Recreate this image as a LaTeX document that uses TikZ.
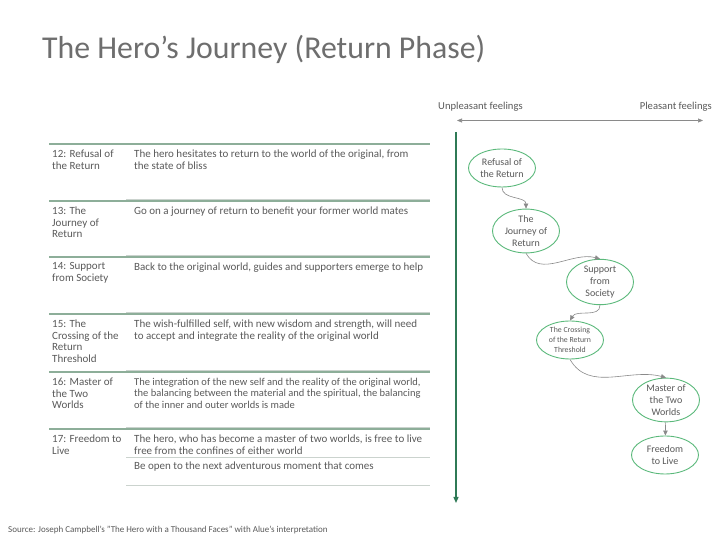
\documentclass[tikz,border=0pt]{standalone}
\usepackage{fontspec}
\setmainfont{Carlito}
\usetikzlibrary{shapes.geometric,arrows.meta,positioning}
\definecolor{titlegray}{HTML}{6E6E6E}
\definecolor{textgray}{HTML}{595959}
\definecolor{sage}{HTML}{8DAE99}
\definecolor{paleline}{HTML}{CBD3CE}
\definecolor{ringgreen}{HTML}{5BB97B}
\definecolor{axisgreen}{HTML}{2F7A56}
\definecolor{arrowgray}{HTML}{8A8A8A}

\begin{document}
\begin{tikzpicture}[
    x=1pt, y=1pt,
    % Style definitions
    celltext/.style={anchor=north west, inner sep=0pt, align=left, text=textgray, font=\fontsize{11}{11.8}\selectfont},
    axislabel/.style={anchor=base, inner sep=0pt, text=textgray, font=\fontsize{10.6}{12}\selectfont},
    rowline/.style={draw=sage, line width=1.6pt},
    subline/.style={draw=paleline, line width=0.8pt},
    stage/.style={ellipse, draw=ringgreen, fill=white, line width=0.9pt, minimum width=67pt, minimum height=38pt, inner sep=0pt, align=center, text=textgray, font=\fontsize{10}{12}\selectfont},
    flow/.style={-{Triangle[length=5pt,width=4.5pt]}, draw=arrowgray, line width=0.6pt},
    feelaxis/.style={draw=axisgreen, line width=1.3pt, -{Triangle[length=6pt,width=5pt]}},
    feelscale/.style={draw=arrowgray, line width=0.6pt, {Triangle[length=5pt,width=4pt]}-{Triangle[length=5pt,width=4pt]}}
]
\useasboundingbox (0,0) rectangle (720,540);

% Title
\node[anchor=base west, inner sep=0pt, text=titlegray, font=\fontsize{31.8}{34}\selectfont] (title) at (42,481) {The Hero’s Journey (Return Phase)};

% Table rules
\draw[rowline] (49,396) -- (430,396);
\draw[subline] (126,341) -- (430,341);
\draw[rowline] (49,339) -- (430,339);
\draw[subline] (126,285) -- (430,285);
\draw[rowline] (49,283) -- (430,283);
\draw[subline] (126,228) -- (430,228);
\draw[rowline] (49,226) -- (430,226);
\draw[subline] (126,170) -- (430,170);
\draw[rowline] (49,168) -- (430,168);
\draw[subline] (126,113) -- (430,113);
\draw[rowline] (49,111) -- (430,111);
\draw[subline] (126,83) -- (430,83);
\draw[subline] (126,55) -- (430,55);

% Stage names
\node[celltext] (name12) at (52,390.5) {12: Refusal of\\the Return};
\node[celltext] (name13) at (52,333.5) {13: The\\Journey of\\Return};
\node[celltext] (name14) at (52,277.5) {14: Support\\from Society};
\node[celltext] (name15) at (52,220.5) {15: The\\Crossing of the\\Return\\Threshold};
\node[celltext] (name16) at (52,162.5) {16: Master of\\the Two\\Worlds};
\node[celltext] (name17) at (52,105.5) {17: Freedom to\\Live};

% Stage descriptions
\node[celltext] (text12) at (134,390.5) {The hero hesitates to return to the world of the original, from\\the state of bliss};
\node[celltext] (text13) at (134,333.5) {Go on a journey of return to benefit your former world mates};
\node[celltext] (text14) at (134,277.5) {Back to the original world, guides and supporters emerge to help};
\node[celltext] (text15) at (134,220.5) {The wish-fulfilled self, with new wisdom and strength, will need\\to accept and integrate the reality of the original world};
\node[celltext, font=\fontsize{10.5}{11.3}\selectfont] (text16) at (134,162) {The integration of the new self and the reality of the original world,\\the balancing between the material and the spiritual, the balancing\\of the inner and outer worlds is made};
\node[celltext] (text17) at (134,105.5) {The hero, who has become a master of two worlds, is free to live\\free from the confines of either world};
\node[celltext] (text17b) at (134,78) {Be open to the next adventurous moment that comes};

% Feeling scale
\node[axislabel, anchor=base west] (unpleasant) at (438,430) {Unpleasant feelings};
\node[axislabel, anchor=base east] (pleasant) at (712,430) {Pleasant feelings};
\coordinate (scaleleft) at (457,419.5);
\coordinate (scaleright) at (703,419.5);
\draw[feelscale] (scaleleft) -- (scaleright);
\coordinate (axistop) at (456,408);
\coordinate (axisbottom) at (456,37);
\draw[feelaxis] (axistop) -- (axisbottom);

% Journey stages
\node[stage] (refusal) at (502,372) {Refusal of\\the Return};
\node[stage] (journey) at (526,309) {The\\Journey of\\Return};
\node[stage] (support) at (600,258) {Support\\from\\Society};
\node[stage, font=\fontsize{7.8}{10}\selectfont] (crossing) at (570,200) {The Crossing\\of the Return\\Threshold};
\node[stage] (master) at (666,140) {Master of\\the Two\\Worlds};
\node[stage] (freedom) at (665,85) {Freedom\\to Live};

% Connections
\draw[flow] (refusal.south) to[out=-90,in=90] (journey.north);
\draw[flow] (journey.south) to[out=-60,in=165] (support.north);
\draw[flow] (support.south) to[out=-90,in=60] (crossing.north);
\draw[flow] (crossing.south) to[out=-60,in=165] (master.north);
\draw[flow] (master) -- (freedom);

% Source
\node[anchor=base west, inner sep=0pt, text=textgray, font=\fontsize{9}{10}\selectfont] (source) at (8,7) {Source: Joseph Campbell's "The Hero with a Thousand Faces" with Alue's interpretation};

\end{tikzpicture}
\end{document}
